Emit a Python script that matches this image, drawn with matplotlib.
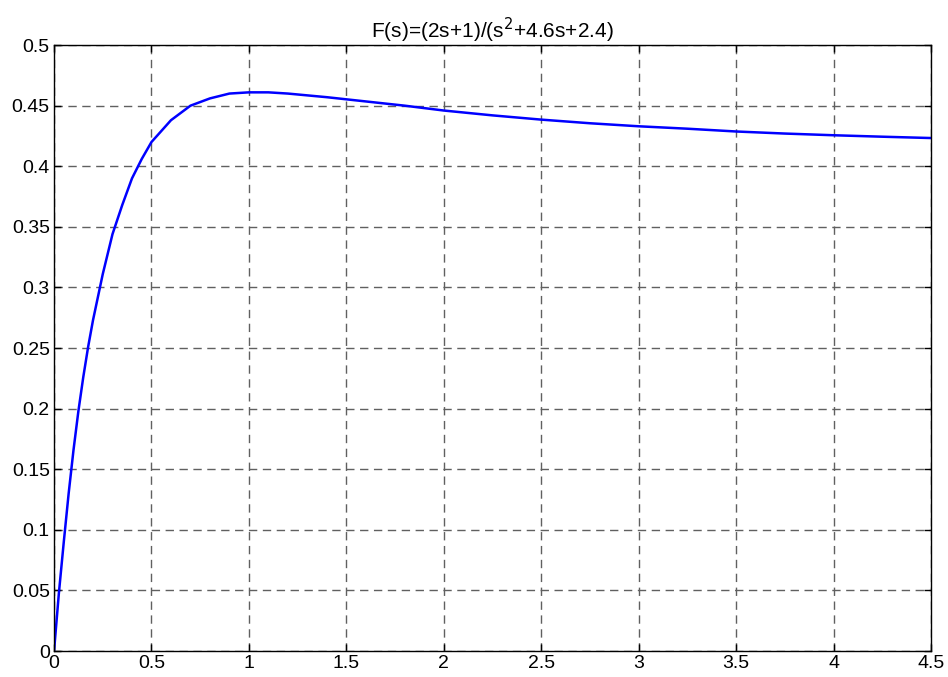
import numpy as np
import matplotlib.pyplot as plt

# step response
t = [0, 0.025, 0.05, 0.075, 0.1, 0.125, 0.15, 0.175, 0.2, 0.25, 0.3, 0.35,
     0.4, 0.45, 0.5, 0.6, 0.7, 0.8, 0.9, 1.0, 1.1, 1.2, 1.4, 1.6, 1.8, 2.0,
     2.25, 2.5, 2.75, 3.0, 3.25, 3.5, 3.75, 4.0, 4.25, 4.5]
y = [0, 0.048, 0.090, 0.130, 0.166, 0.198, 0.226, 0.251, 0.273, 0.311, 0.344,
     0.368, 0.390, 0.406, 0.420, 0.438, 0.450, 0.456, 0.460, 0.461, 0.461,
     0.460, 0.457, 0.4535, 0.450, 0.446, 0.442, 0.4385, 0.4355, 0.433, 0.431,
     0.4287, 0.427, 0.4256, 0.4244, 0.4233]

xticks = np.arange(0, 4.51, 0.5)
yticks = np.arange(0, 0.501, 0.05)
xlabels = ['0', '0.5', '1', '1.5', '2', '2.5', '3', '3.5', '4', '4.5']
ylabels = ['0', '0.05', '0.1', '0.15', '0.2', '0.25', '0.3', '0.35', '0.4', '0.45', '0.5']

plt.rcParams['font.family'] = ['Liberation Sans', 'DejaVu Sans']

fig = plt.figure(figsize=(9.48, 6.77), dpi=100)
ax = fig.add_axes([0.057, 0.0384, 0.925, 0.895])
ax.plot(t, y, color='#0000ff', linewidth=1.8)

ax.set_xlim(0, 4.5)
ax.set_ylim(0, 0.5)
ax.set_xticks(xticks)
ax.set_xticklabels(xlabels)
ax.set_yticks(yticks)
ax.set_yticklabels(ylabels)
ax.tick_params(direction='in', top=True, right=True, labelsize=14, length=5,
               width=1, pad=3)
ax.grid(True, color='#606060', linestyle=(0, (6, 4)), linewidth=1)
for s in ax.spines.values():
    s.set_linewidth(1)
    s.set_color('black')

ax.set_title('F(s)=(2s+1)/(s$^2$+4.6s+2.4)', fontsize=15, pad=5)

fig.savefig('out.png', dpi=100)
